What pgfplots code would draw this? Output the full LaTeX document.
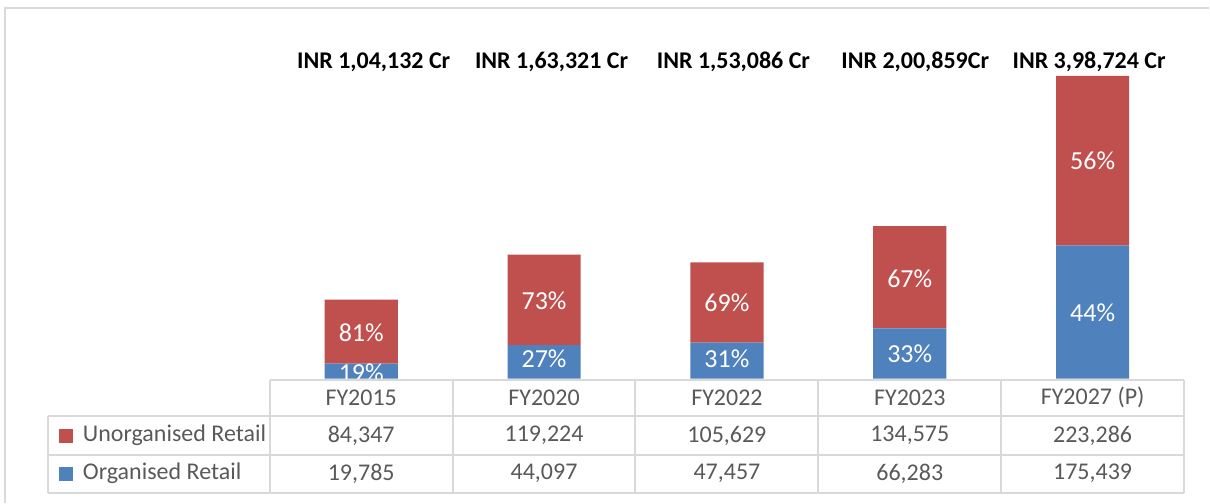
\documentclass[border=0pt]{standalone}
\usepackage{fontspec}
\setmainfont{Carlito}
\usepackage{pgfplots}
\pgfplotsset{compat=1.18}
\definecolor{unorg}{RGB}{192,80,77}
\definecolor{org}{RGB}{79,129,189}
\definecolor{gridgray}{RGB}{217,217,217}
\definecolor{txtgray}{RGB}{89,89,89}
\tikzset{
  pct/.style={text=white, font=\fontsize{13bp}{15bp}\selectfont},
  cell/.style={text=txtgray, font=\fontsize{12bp}{14bp}\selectfont},
  total/.style={text=black, font=\fontsize{12bp}{14bp}\selectfont\bfseries},
}

\begin{document}
\begin{tikzpicture}
\begin{axis}[
    at={(0,0)}, anchor=south west,
    scale only axis, width=605bp, height=251.5bp,
    xmin=-1.9754, xmax=4.6366,
    ymin=-163184, ymax=498764,
    ybar stacked, bar width=0.4,
    axis line style={draw=none}, ticks=none,
    clip=false,
]
    % Organised Retail
    \addplot[fill=org, draw=none]
        coordinates {(0,19785) (1,44097) (2,47457) (3,66283) (4,175439)};
    % Unorganised Retail
    \addplot[fill=unorg, draw=none]
        coordinates {(0,84347) (1,119224) (2,105629) (3,134575) (4,223286)};
\end{axis}

% labels, data table and frame, in pixel units of the reference
\begin{scope}[x=0.5bp, y=-0.5bp, shift={(0,251.5bp)}]
    % share labels, centred in each segment
    \node[pct] at (361.5,373) {19\%};
    \node[pct] at (544.5,359) {27\%};
    \node[pct] at (727.5,359) {31\%};
    \node[pct] at (910.5,354) {33\%};
    \node[pct] at (1093.5,313) {44\%};
    \node[pct] at (361.5,333) {81\%};
    \node[pct] at (544.5,301) {73\%};
    \node[pct] at (727.5,303) {69\%};
    \node[pct] at (910.5,279) {67\%};
    \node[pct] at (1093.5,161) {56\%};

    \fill[white] (270,380) rectangle (1185,416);
    \draw[gridgray, line width=1bp] (5,503) -- (5,8) -- (1210,8);
    \draw[gridgray, line width=1bp] (270,380) -- (1185,380);
    \draw[gridgray, line width=1bp] (48,416) -- (1185,416);
    \draw[gridgray, line width=1bp] (48,455) -- (1185,455);
    \draw[gridgray, line width=1bp] (48,493) -- (1185,493);
    \draw[gridgray, line width=1bp] (48,416) -- (48,493);
    \foreach \x in {270,453,636,819,1002,1185}
        \draw[gridgray, line width=1bp] (\x,380) -- (\x,493);

    \node[cell] at (361.5,398) {FY2015};
    \node[cell] at (544.5,398) {FY2020};
    \node[cell] at (727.5,398) {FY2022};
    \node[cell] at (910.5,398) {FY2023};
    \node[cell] at (1093.5,398) {FY2027 (P)};

    \node[cell] at (361.5,436) {84,347};
    \node[cell] at (544.5,436) {119,224};
    \node[cell] at (727.5,436) {105,629};
    \node[cell] at (910.5,436) {134,575};
    \node[cell] at (1093.5,436) {223,286};

    \node[cell] at (361.5,474) {19,785};
    \node[cell] at (544.5,474) {44,097};
    \node[cell] at (727.5,474) {47,457};
    \node[cell] at (910.5,474) {66,283};
    \node[cell] at (1093.5,474) {175,439};

    \node[cell, anchor=west] at (76,436) {Unorganised Retail};
    \node[cell, anchor=west] at (76,474) {Organised Retail};
    \fill[unorg] (59,429) rectangle (73,443);
    \fill[org] (59,467) rectangle (73,481);

    \node[total] at (374,62) {INR 1,04,132 Cr};
    \node[total] at (552,62) {INR 1,63,321 Cr};
    \node[total] at (734,62) {INR 1,53,086 Cr};
    \node[total] at (916,62) {INR 2,00,859Cr};
    \node[total] at (1090,62) {INR 3,98,724 Cr};
\end{scope}
\end{tikzpicture}
\end{document}
